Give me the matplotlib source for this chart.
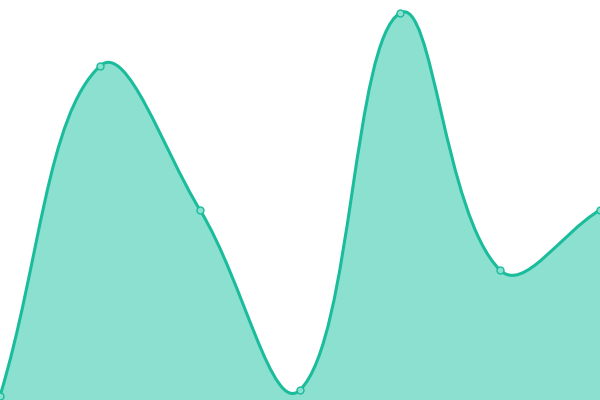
import numpy as np
import matplotlib
matplotlib.use("Agg")
import matplotlib.pyplot as plt
from matplotlib.path import Path
from matplotlib.patches import PathPatch

# Data (x index, value on a 0-100 scale)
x_vals = [0, 1, 2, 3, 4, 5, 6]
y_vals = [1.0, 83.5, 47.5, 2.5, 96.75, 32.5, 47.5]

line_color = "#1abc9c"
fill_color = "#8ce0cf"
tension = 0.4

# Figure fills the whole canvas, no axes
fig = plt.figure(figsize=(6, 4), dpi=100)
ax = fig.add_axes([0, 0, 1, 1])
ax.set_xlim(0, 6)
ax.set_ylim(0, 100)
ax.axis("off")


def spline_controls(px, py, t):
    """Cardinal-style control points weighted by segment length (in pixel space)"""
    n = len(px)
    c_prev = [(px[i], py[i]) for i in range(n)]
    c_next = [(px[i], py[i]) for i in range(n)]
    for i in range(n):
        p0 = (px[max(i - 1, 0)], py[max(i - 1, 0)])
        p1 = (px[i], py[i])
        p2 = (px[min(i + 1, n - 1)], py[min(i + 1, n - 1)])
        d01 = np.hypot(p1[0] - p0[0], p1[1] - p0[1])
        d12 = np.hypot(p2[0] - p1[0], p2[1] - p1[1])
        tot = d01 + d12
        s01 = d01 / tot if tot else 0
        s12 = d12 / tot if tot else 0
        fa = t * s01
        fb = t * s12
        c_prev[i] = (p1[0] - fa * (p2[0] - p0[0]), p1[1] - fa * (p2[1] - p0[1]))
        c_next[i] = (p1[0] + fb * (p2[0] - p0[0]), p1[1] + fb * (p2[1] - p0[1]))
    return c_prev, c_next


# work in display coordinates so the smoothing matches pixel geometry
disp = ax.transData.transform(np.column_stack([x_vals, y_vals]))
px, py = disp[:, 0], disp[:, 1]
c_prev, c_next = spline_controls(px, py, tension)

verts = [(px[0], py[0])]
codes = [Path.MOVETO]
for i in range(len(px) - 1):
    verts += [c_next[i], c_prev[i + 1], (px[i + 1], py[i + 1])]
    codes += [Path.CURVE4] * 3

inv = ax.transData.inverted()
verts_data = inv.transform(np.array(verts))

# filled area down to baseline
fill_verts = list(map(tuple, verts_data)) + [(x_vals[-1], 0), (x_vals[0], 0), tuple(verts_data[0])]
fill_codes = codes + [Path.LINETO, Path.LINETO, Path.CLOSEPOLY]
ax.add_patch(PathPatch(Path(fill_verts, fill_codes), facecolor=fill_color,
                       edgecolor="none", zorder=1))

# smooth line
ax.add_patch(PathPatch(Path(verts_data, codes), facecolor="none",
                       edgecolor=line_color, linewidth=2.2, zorder=2,
                       capstyle="round", joinstyle="round"))

# point markers
ax.plot(x_vals, y_vals, "o", markersize=5, markerfacecolor=fill_color,
        markeredgecolor=line_color, markeredgewidth=1.0, zorder=3, clip_on=False)

fig.savefig("out.png", dpi=100)
